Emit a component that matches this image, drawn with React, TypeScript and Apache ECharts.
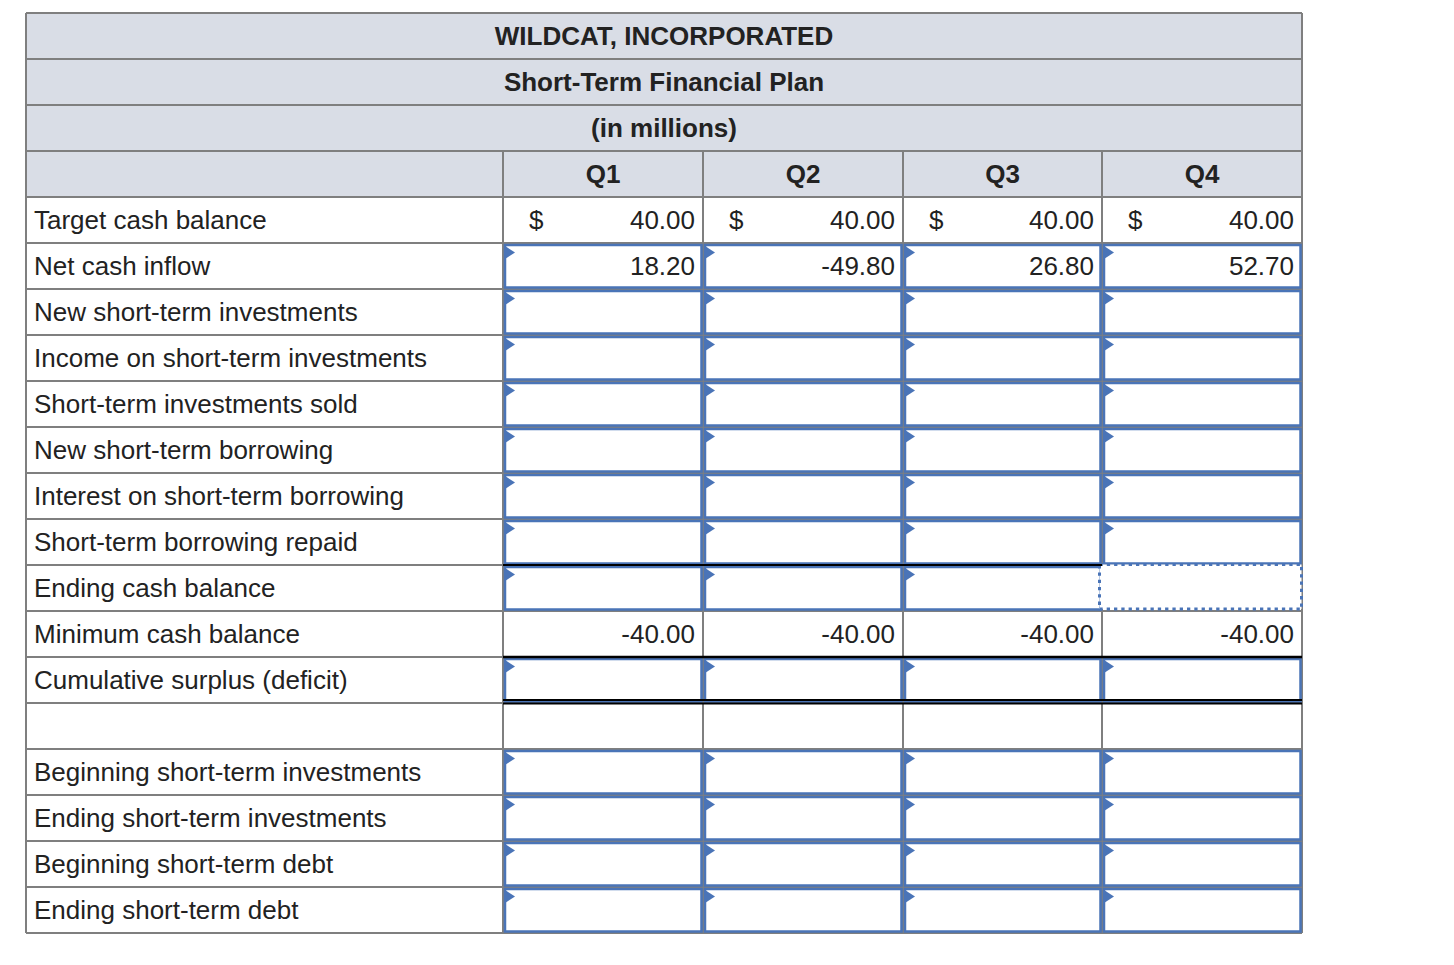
import React, { useEffect, useRef } from "react";
import * as echarts from "echarts";

const titleLines = ["WILDCAT, INCORPORATED", "Short-Term Financial Plan", "(in millions)"];
const quarters = ["Q1", "Q2", "Q3", "Q4"];
const rowLabels = [
  "Target cash balance",
  "Net cash inflow",
  "New short-term investments",
  "Income on short-term investments",
  "Short-term investments sold",
  "New short-term borrowing",
  "Interest on short-term borrowing",
  "Short-term borrowing repaid",
  "Ending cash balance",
  "Minimum cash balance",
  "Cumulative surplus (deficit)",
  "",
  "Beginning short-term investments",
  "Ending short-term investments",
  "Beginning short-term debt",
  "Ending short-term debt",
];
const targetCash = [40.0, 40.0, 40.0, 40.0];
const netCashInflow = [18.2, -49.8, 26.8, 52.7];
const minimumCash = [-40.0, -40.0, -40.0, -40.0];
// row kinds: "fixed" = plain cell, "input" = answer box
const rowKinds = [
  "fixed", "input", "input", "input", "input", "input", "input", "input",
  "input", "fixed", "input", "fixed", "input", "input", "input", "input",
];

export default function App() {
  const ref = useRef<HTMLDivElement>(null);
  useEffect(() => {
    if (!ref.current) return;
    const chart = echarts.init(ref.current, null, { renderer: "svg" });

    const L = 26, R = 1302, T = 13, RH = 46;
    const colX = [503, 703, 903, 1102, 1302];
    const headerBg = "#d9dde6";
    const grid = "#7f7f7f";
    const blue = "#4a74b7";
    const txt = "#222222";
    const font = '"Liberation Sans", Arial, Helvetica, sans-serif';
    const fs = 26;
    const els: any[] = [];
    const nRows = 4 + rowLabels.length;
    const B = T + nRows * RH;

    // header background
    els.push({ type: "rect", shape: { x: L, y: T, width: R - L, height: 4 * RH }, style: { fill: headerBg } });
    els.push({ type: "rect", shape: { x: L, y: T + 4 * RH, width: R - L, height: B - T - 4 * RH }, style: { fill: "#ffffff" } });

    // grid lines
    for (let i = 0; i <= nRows; i++) {
      const y = T + i * RH;
      els.push({ type: "line", shape: { x1: L, y1: y, x2: R, y2: y }, style: { stroke: grid, lineWidth: 2 } });
    }
    els.push({ type: "line", shape: { x1: L, y1: T, x2: L, y2: B }, style: { stroke: grid, lineWidth: 2 } });
    els.push({ type: "line", shape: { x1: R, y1: T, x2: R, y2: B }, style: { stroke: grid, lineWidth: 2 } });
    for (let c = 0; c < 4; c++) {
      els.push({ type: "line", shape: { x1: colX[c], y1: T + 3 * RH, x2: colX[c], y2: B }, style: { stroke: grid, lineWidth: 2 } });
    }

    // input boxes
    rowLabels.forEach((_, r) => {
      const y = T + (4 + r) * RH;
      if (rowKinds[r] !== "input") return;
      for (let c = 0; c < 4; c++) {
        const x = colX[c];
        const w = colX[c + 1] - x;
        const dotted = r === 8 && c === 3;
        if (dotted) {
          els.push({
            type: "rect",
            shape: { x: x - 2.5, y: y - 0.5, width: w + 2, height: RH - 1.5 },
            style: { fill: "#ffffff", stroke: blue, lineWidth: 3, lineDash: [3.3, 4] },
          });
          continue;
        }
        els.push({
          type: "rect",
          shape: { x: x + 2, y: y + 2, width: w - 3.5, height: RH - 3.5 },
          style: { fill: "#ffffff", stroke: blue, lineWidth: 2.5 },
        });
        els.push({
          type: "polygon",
          shape: { points: [[x + 2, y + 3], [x + 12, y + 9.5], [x + 2, y + 16]] },
          style: { fill: blue },
        });
      }
    });

    // black rules
    const yEnd = T + (4 + 8) * RH;
    els.push({ type: "line", shape: { x1: colX[0], y1: yEnd, x2: colX[3], y2: yEnd }, style: { stroke: "#000", lineWidth: 2 } });
    const yCum = T + (4 + 10) * RH;
    els.push({ type: "line", shape: { x1: colX[0], y1: yCum, x2: R, y2: yCum }, style: { stroke: "#000", lineWidth: 2.5 } });
    const yDbl = T + (4 + 11) * RH;
    els.push({ type: "line", shape: { x1: colX[0], y1: yDbl - 3, x2: R, y2: yDbl - 3 }, style: { stroke: "#000", lineWidth: 2 } });
    els.push({ type: "line", shape: { x1: colX[0], y1: yDbl + 0.5, x2: R, y2: yDbl + 0.5 }, style: { stroke: "#000", lineWidth: 2 } });

    const text = (s: string, x: number, y: number, align: string, bold = false) =>
      els.push({
        type: "text",
        style: {
          text: s, x, y, textAlign: align, textVerticalAlign: "middle",
          fontSize: fs, fontFamily: font, fontWeight: bold ? "bold" : "normal", fill: txt,
        },
      });

    const mid = (i: number) => T + i * RH + RH / 2 - 0.5;

    // titles
    titleLines.forEach((t, i) => text(t, (L + R) / 2, mid(i), "center", true));
    quarters.forEach((q, c) => text(q, (colX[c] + colX[c + 1]) / 2, mid(3), "center", true));

    // labels
    rowLabels.forEach((lab, r) => {
      if (lab) text(lab, 34, mid(4 + r), "left");
    });

    const fmt = (v: number) => v.toFixed(2);
    for (let c = 0; c < 4; c++) {
      const xr = colX[c + 1] - 8;
      text("$", colX[c] + 26, mid(4), "left");
      text(fmt(targetCash[c]), xr, mid(4), "right");
      text(fmt(netCashInflow[c]), xr, mid(5), "right");
      text(fmt(minimumCash[c]), xr, mid(13), "right");
    }

    chart.setOption({ animation: false, graphic: { elements: els } });
    return () => chart.dispose();
  }, []);
  return (
    <div
      ref={ref}
      style={{ position: "absolute", left: 0, top: 0, width: 1454, height: 965, background: "#ffffff" }}
    />
  );
}
